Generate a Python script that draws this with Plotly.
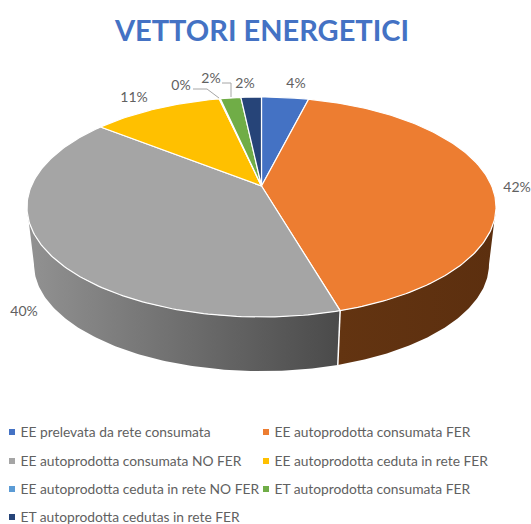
import math
import numpy as np
import plotly.graph_objects as go

# ---- data ----
categories = [
    "EE prelevata da rete consumata",
    "EE autoprodotta consumata FER",
    "EE autoprodotta consumata NO FER",
    "EE autoprodotta ceduta in rete FER",
    "EE autoprodotta ceduta in rete NO FER",
    "ET autoprodotta consumata FER",
    "ET autoprodotta cedutas in rete FER",
]
values = [3.9, 41.6, 40.2, 10.8, 0.1, 1.7, 1.7]

# ---- style ----
colors = ["#4472C4", "#ED7D31", "#A5A5A5", "#FFC000", "#5B9BD5", "#70AD47", "#264478"]
wall_scales = {
    1: [[0, "#633411"], [1, "#5C2F0F"]],
    2: [[0, "#929292"], [1, "#4A4A4A"]],
}
TEXT = "#616161"
FONT = "Lato"

# ---- projection of the tilted pie (pixel-like plot coordinates) ----
CX, APEX_Y, A, B, K = 261.5, 186.0, 230.2, 106.0, 0.191
WALL_SCALE, WALL_APEX_Y = 0.97, 244.0


def rim(theta, scale=1.0, apex=APEX_Y):
    u, v = np.sin(theta), np.cos(theta)
    w = 1 + K * v
    return CX + scale * A * u / w, apex - scale * B * v / w


total = sum(values)
edges = np.cumsum([0] + values) / total * 2 * math.pi
T_RIGHT = math.acos(-K)
T_LEFT = 2 * math.pi - T_RIGHT

fig = go.Figure()

# side walls (only the part facing the viewer)
for i in range(len(values)):
    a, b = max(edges[i], T_RIGHT), min(edges[i + 1], T_LEFT)
    if b <= a:
        continue
    t = np.linspace(a, b, 120)
    x1, y1 = rim(t)
    x2, y2 = rim(t[::-1], WALL_SCALE, WALL_APEX_Y)
    fig.add_trace(go.Scatter(
        x=np.r_[x1, x2, x1[0]], y=np.r_[y1, y2, y1[0]],
        mode="lines", line=dict(width=0), fill="toself",
        fillgradient=dict(type="horizontal", colorscale=wall_scales[i]),
        hoverinfo="skip", showlegend=False,
    ))

# white separators on the wall
for e in edges[1:-1]:
    if T_RIGHT < e < T_LEFT:
        x1, y1 = rim(np.array([e]))
        x2, y2 = rim(np.array([e]), WALL_SCALE, WALL_APEX_Y)
        fig.add_trace(go.Scatter(
            x=[x1[0], x2[0]], y=[y1[0], y2[0]], mode="lines",
            line=dict(color="white", width=1.5), hoverinfo="skip", showlegend=False,
        ))

# top face
for i, (name, val) in enumerate(zip(categories, values)):
    n = max(3, int((edges[i + 1] - edges[i]) * 60))
    t = np.linspace(edges[i], edges[i + 1], n)
    x, y = rim(t)
    fig.add_trace(go.Scatter(
        x=np.r_[CX, x, CX], y=np.r_[APEX_Y, y, APEX_Y],
        mode="lines", line=dict(color="white", width=1.2), fill="toself",
        fillcolor=colors[i], name=name, text=f"{val / total:.0%}",
        hoverinfo="name+text", showlegend=False,
    ))

# data labels and leader lines
label_x = [296, 517, 24, 134, 181, 211, 245]
label_y = [84, 188, 312, 98, 86, 79, 84]
fig.add_trace(go.Scatter(
    x=label_x, y=label_y, mode="text",
    text=[f"{round(v / total * 100)}%" for v in values],
    textposition="middle center",
    textfont=dict(family=FONT, size=14, color=TEXT),
    cliponaxis=False, hoverinfo="skip", showlegend=False,
))
leaders = [([193, 207, 219], [89, 89, 98]), ([222, 231, 231], [83, 83, 97])]
for lx, ly in leaders:
    fig.add_trace(go.Scatter(
        x=lx, y=ly, mode="lines", line=dict(color="#A6A6A6", width=1),
        hoverinfo="skip", showlegend=False,
    ))

# legend block
legend_col = [12, 266, 12, 266, 12, 266, 12]
legend_row = [432, 432, 461, 461, 489, 489, 517]
for i, name in enumerate(categories):
    fig.add_trace(go.Scatter(
        x=[legend_col[i]], y=[legend_row[i]], mode="markers",
        marker=dict(symbol="square", size=6, color=colors[i]),
        cliponaxis=False, hoverinfo="skip", showlegend=False,
    ))
    fig.add_trace(go.Scatter(
        x=[legend_col[i] + 8.5], y=[legend_row[i] + 1.5], mode="text",
        text=[name], textposition="middle right",
        textfont=dict(family=FONT, size=13.8, color=TEXT),
        cliponaxis=False, hoverinfo="skip", showlegend=False,
    ))

fig.update_layout(
    width=531, height=524, autosize=False,
    margin=dict(l=0, r=0, t=0, b=0),
    paper_bgcolor="white", plot_bgcolor="white",
    title=dict(text="<b>VETTORI ENERGETICI</b>", x=262 / 531, xanchor="center",
               y=1 - 31 / 524, yanchor="middle",
               font=dict(family=FONT, size=29, color="#4472C4")),
    xaxis=dict(range=[0, 531], visible=False, fixedrange=True),
    yaxis=dict(range=[524, 0], visible=False, fixedrange=True),
    showlegend=False,
)
fig.write_html(
    "out.html",
    config={"displayModeBar": False},
    post_script="document.body.style.margin='0';document.body.style.overflow='hidden';",
)
